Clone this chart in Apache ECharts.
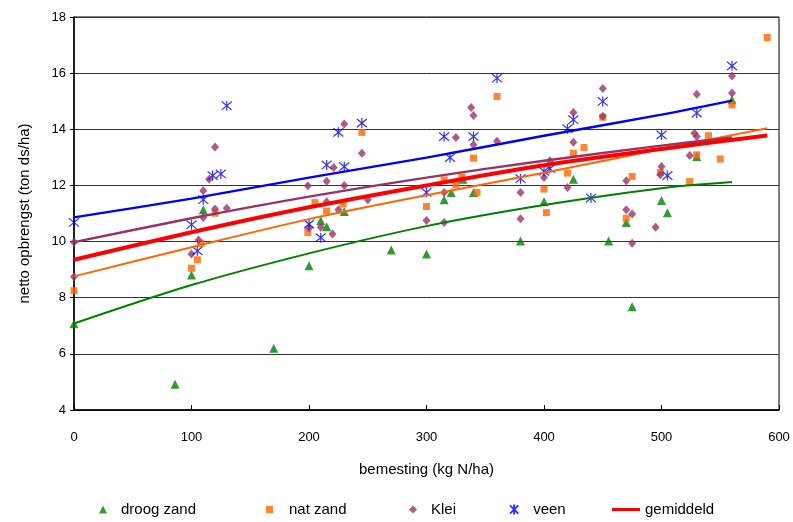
<!DOCTYPE html>
<html>
<head>
<meta charset="utf-8">
<title>bemesting</title>
<script src="https://cdn.jsdelivr.net/npm/echarts@6/dist/echarts.min.js"></script>
<style>
  html, body { margin: 0; padding: 0; background: #fff; }
  #chart { width: 793px; height: 522px; }
</style>
</head>
<body>
<div id="chart"></div>
<script>
// meetpunten [bemesting, opbrengst]
const droogZand = [[0,7.07],[86,4.92],[100,8.81],[110,11.13],[170,6.2],[200,9.14],[210,10.74],[215,10.53],[230,11.07],[270,9.7],[300,9.56],[315,11.49],[321,11.75],[331,12.22],[340,11.75],[380,10.02],[400,11.43],[425,12.22],[455,10.02],[470,10.68],[475,7.68],[500,11.46],[505,11.03],[530,13.03],[560,15.05]]
const natZand = [[0,8.25],[100,9.05],[105,9.35],[108,9.94],[120,11.01],[199,10.32],[205,11.39],[215,11.09],[229,11.34],[245,13.89],[300,11.25],[315,12.2],[325,12.02],[330,12.3],[340,12.97],[343,11.75],[360,15.17],[400,11.87],[402,11.03],[420,12.44],[425,13.15],[434,13.35],[450,14.43],[470,10.83],[475,12.32],[499,12.46],[524,12.14],[530,13.09],[540,13.77],[550,12.94],[560,14.87],[590,17.27]]
const klei = [[0,9.98],[0,8.75],[100,9.56],[106,10.06],[110,10.86],[110,11.81],[115,12.22],[120,13.37],[120,11.16],[130,11.19],[199,11.99],[200,10.48],[210,10.51],[220,10.27],[215,12.15],[215,11.42],[221,12.64],[225,11.13],[230,12.0],[230,14.19],[245,13.15],[250,11.49],[300,10.75],[315,11.75],[315,10.68],[325,13.71],[338,14.78],[340,14.49],[340,13.45],[360,13.57],[380,11.75],[380,10.81],[400,12.28],[405,12.88],[420,11.93],[425,13.54],[425,14.6],[450,14.46],[450,15.45],[470,12.17],[470,11.13],[475,10.98],[475,9.94],[495,10.51],[500,12.67],[499,12.38],[524,13.07],[528,13.86],[530,13.74],[530,15.25],[560,15.9],[560,15.29]]
const veen = [[0,10.68],[100,10.6],[105,9.67],[110,11.49],[118,12.35],[125,12.41],[130,14.84],[200,10.62],[210,10.14],[215,12.73],[225,13.89],[230,12.67],[245,14.22],[300,11.75],[315,13.74],[320,12.99],[340,13.74],[360,15.82],[380,12.24],[400,12.5],[405,12.6],[420,14.02],[425,14.34],[440,11.55],[450,14.99],[500,13.8],[505,12.35],[530,14.58],[560,16.26]]

const fitX560 = [0, 100, 200, 300, 400, 500, 560]
const fitX590 = [0, 100, 200, 300, 400, 500, 590]
const fitDroog = [7.08, 8.45, 9.58, 10.55, 11.3, 11.9, 12.12]
const fitNat = [8.76, 9.8, 10.8, 11.65, 12.45, 13.3, 14.04]
const fitKlei = [9.98, 10.83, 11.6, 12.28, 12.88, 13.42, 13.71]
const fitVeen = [10.86, 11.53, 12.28, 12.99, 13.77, 14.52, 15.02]
const gemiddeld = [9.35, 10.33, 11.22, 12.0, 12.72, 13.3, 13.78]

const legendNames = ['droog zand', 'nat zand', 'Klei', 'veen', 'gemiddeld']

const zip = (xs, ys) => xs.map((x, i) => [x, ys[i]])

const font = 'Liberation Sans, Arial, sans-serif'
const starPath = 'path://M0,0L10,10M10,0L0,10M5,-1L5,11'

const fitLine = (name, xs, ys, color, width) => ({
  name: name,
  type: 'line',
  data: zip(xs, ys),
  symbol: 'none',
  smooth: 0.3,
  lineStyle: {color: color, width: width},
  itemStyle: {color: color},
  z: 3
})

// legenda: een blokje per reeks, icoon + tekst zoals in het origineel
const symbolLegend = (name, left, size, textPad) => ({
  data: [name],
  left: left,
  top: 502,
  padding: 0,
  itemWidth: size,
  itemHeight: size,
  textStyle: {fontSize: 15, color: '#000', fontFamily: font, padding: [0, 0, 0, textPad]}
})

let chart = echarts.init(document.getElementById('chart'))

let option = {
  animation: false,
  textStyle: {fontFamily: font},
  grid: {
    left: 74,
    right: 14,
    top: 17,
    bottom: 112,
    show: true,
    borderColor: '#000',
    borderWidth: 1
  },
  legend: [
    symbolLegend(legendNames[0], 99, 8, 9),
    symbolLegend(legendNames[1], 266, 7, 11),
    symbolLegend(legendNames[2], 409, 8, 9),
    symbolLegend(legendNames[3], 509, 10, 9),
    {
      data: [{name: legendNames[4], icon: 'rect'}],
      left: 612,
      top: 502,
      padding: 0,
      itemWidth: 28,
      itemHeight: 3,
      textStyle: {fontSize: 15, color: '#000', fontFamily: font}
    }
  ],
  xAxis: {
    type: 'value',
    min: 0,
    max: 600,
    interval: 100,
    name: 'bemesting (kg N/ha)',
    nameLocation: 'middle',
    nameGap: 52,
    nameTextStyle: {fontSize: 15, color: '#000'},
    axisLine: {lineStyle: {color: '#000', width: 1.5}},
    axisTick: {inside: true, length: 5, lineStyle: {color: '#000'}},
    axisLabel: {fontSize: 13, color: '#000', margin: 21},
    splitLine: {show: false}
  },
  yAxis: {
    type: 'value',
    min: 4,
    max: 18,
    interval: 2,
    name: 'netto opbrengst (ton ds/ha)',
    nameLocation: 'middle',
    nameGap: 42,
    nameTextStyle: {fontSize: 15, color: '#000'},
    axisLine: {show: true, lineStyle: {color: '#000', width: 1.5}},
    axisTick: {show: true, length: 4, lineStyle: {color: '#000'}},
    axisLabel: {fontSize: 13, color: '#000', margin: 8},
    splitLine: {lineStyle: {color: '#333', width: 1}}
  },
  series: [
    {
      name: 'droog zand', type: 'scatter', data: droogZand,
      symbol: 'triangle', symbolSize: 9,
      itemStyle: {color: '#008000'}
    },
    {
      name: 'nat zand', type: 'scatter', data: natZand,
      symbol: 'rect', symbolSize: 7,
      itemStyle: {color: '#ff6600'}
    },
    {
      name: 'Klei', type: 'scatter', data: klei,
      symbol: 'diamond', symbolSize: [8, 9],
      itemStyle: {color: '#993366'}
    },
    {
      name: 'veen', type: 'scatter', data: veen,
      symbol: starPath, symbolSize: 10,
      itemStyle: {color: '#0000ff', borderColor: '#0000ff', borderWidth: 1.2}
    },
    fitLine('trend droog zand', fitX560, fitDroog, '#008000', 2),
    fitLine('trend nat zand', fitX590, fitNat, '#ff6600', 2),
    fitLine('trend Klei', fitX560, fitKlei, '#993366', 2.4),
    fitLine('trend veen', fitX560, fitVeen, '#0000ff', 2.4),
    fitLine('gemiddeld', fitX590, gemiddeld, '#ff0000', 4)
  ]
}

chart.setOption(option)
</script>
</body>
</html>
